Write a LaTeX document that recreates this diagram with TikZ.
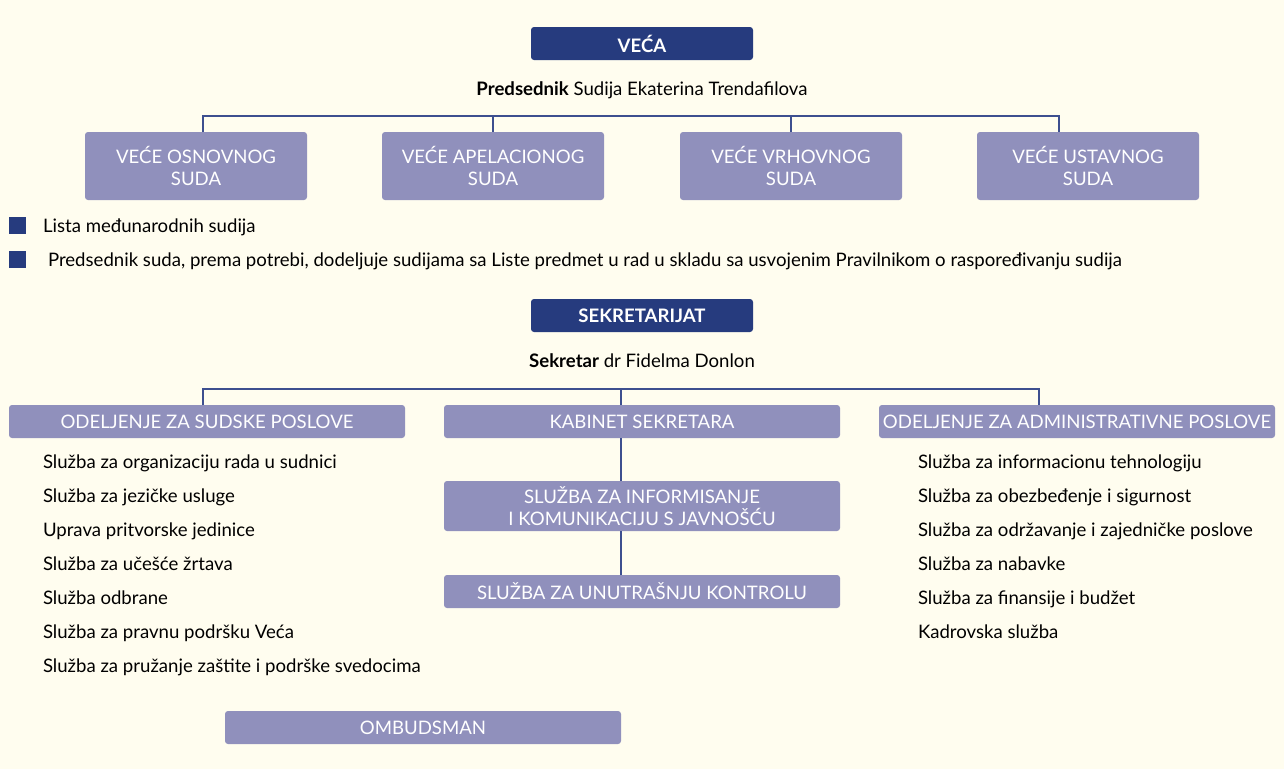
\documentclass[tikz,border=0pt]{standalone}
\usepackage{fontspec}
\setmainfont{Lato}
\definecolor{bgc}{HTML}{FFFDEF}
\definecolor{dkblue}{HTML}{263B7E}
\definecolor{lpurple}{HTML}{9090BC}
\definecolor{linec}{HTML}{3D4F8F}
\begin{document}
\begin{tikzpicture}[x=1pt,y=-1pt,
  every node/.style={inner sep=0pt,outer sep=0pt},
  darkbox/.style={fill=dkblue,rounded corners=3pt,text=white,font=\fontsize{18.6}{22}\selectfont\bfseries,minimum width=222pt,minimum height=33pt},
  pbox/.style={fill=lpurple,rounded corners=3pt,text=white,align=center,font=\fontsize{18.6}{22}\selectfont,minimum height=33pt},
  vbox/.style={pbox,minimum width=222pt,minimum height=68pt},
  wbox/.style={pbox,minimum width=396pt},
  item/.style={anchor=base west,font=\fontsize{18.6}{22}\selectfont,text=black},
  head/.style={anchor=base,font=\fontsize{18.6}{22}\selectfont,text=black},
  bullet/.style={fill=dkblue,minimum width=17pt,minimum height=17pt},
  conn/.style={draw=linec,line width=1.1pt}]
\fill[bgc] (0,0) rectangle (1284,769);
\useasboundingbox (0,0) rectangle (1284,769);

% VECA
\node[darkbox] (veca) at (642,43.5) {VEĆA};
\node[head] (pred) at (642,95) {\textbf{Predsednik} Sudija Ekaterina Trendafilova};
\node[vbox] (v1) at (196,166) {VEĆE OSNOVNOG\\SUDA};
\node[vbox] (v2) at (493,166) {VEĆE APELACIONOG\\SUDA};
\node[vbox] (v3) at (791,166) {VEĆE VRHOVNOG\\SUDA};
\node[vbox] (v4) at (1088,166) {VEĆE USTAVNOG\\SUDA};
\coordinate (j1) at (203,116);
\coordinate (j2) at (493,116);
\coordinate (j3) at (791,116);
\coordinate (j4) at (1059,116);
\draw[conn] (j1 |- v1.north) -- (j1) -- (j4) -- (j4 |- v4.north);
\draw[conn] (j2) -- (j2 |- v2.north);
\draw[conn] (j3) -- (j3 |- v3.north);

% bullets
\node[bullet] (b1) at (17.5,225.5) {};
\node[bullet] (b2) at (17.5,259.5) {};
\node[item] (t1) at (43,232) {Lista međunarodnih sudija};
\node[item] (t2) at (48,266) {Predsednik suda, prema potrebi, dodeljuje sudijama sa Liste predmet u rad u skladu sa usvojenim Pravilnikom o raspoređivanju sudija};

% SEKRETARIJAT
\node[darkbox] (sek) at (642,315.5) {SEKRETARIJAT};
\node[head] (sekr) at (642,367) {\textbf{Sekretar} dr Fidelma Donlon};
\node[wbox] (o1) at (207,421.5) {ODELJENJE ZA SUDSKE POSLOVE};
\node[wbox] (kab) at (642,421.5) {KABINET SEKRETARA};
\node[wbox] (o2) at (1077,421.5) {ODELJENJE ZA ADMINISTRATIVNE POSLOVE};
\coordinate (k1) at (203,389);
\coordinate (k2) at (621,389);
\coordinate (k3) at (1039,389);
\draw[conn] (k1 |- o1.north) -- (k1) -- (k3) -- (k3 |- o2.north);
\draw[conn] (k2) -- (k2 |- kab.north);
\node[wbox,minimum height=50pt] (inf) at (642,506) {SLUŽBA ZA INFORMISANJE\\I KOMUNIKACIJU S JAVNOŠĆU};
\node[wbox] (unk) at (642,591.5) {SLUŽBA ZA UNUTRAŠNJU KONTROLU};
\draw[conn] (kab.south -| k2) -- (inf.north -| k2);
\draw[conn] (inf.south -| k2) -- (unk.north -| k2);

% left list
\node[item] (l1) at (43,468.5) {Služba za organizaciju rada u sudnici};
\node[item] (l2) at (43,502.5) {Služba za jezičke usluge};
\node[item] (l3) at (43,536.5) {Uprava pritvorske jedinice};
\node[item] (l4) at (43,570.5) {Služba za učešće žrtava};
\node[item] (l5) at (43,604.5) {Služba odbrane};
\node[item] (l6) at (43,638.5) {Služba za pravnu podršku Veća};
\node[item] (l7) at (43,672.5) {Služba za pružanje zaštite i podrške svedocima};

% right list
\node[item] (r1) at (918,468.5) {Služba za informacionu tehnologiju};
\node[item] (r2) at (918,502.5) {Služba za obezbeđenje i sigurnost};
\node[item] (r3) at (918,536.5) {Služba za održavanje i zajedničke poslove};
\node[item] (r4) at (918,570.5) {Služba za nabavke};
\node[item] (r5) at (918,604.5) {Služba za finansije i budžet};
\node[item] (r6) at (918,638.5) {Kadrovska služba};

\node[wbox] (omb) at (423,727.5) {OMBUDSMAN};
\end{tikzpicture}
\end{document}
